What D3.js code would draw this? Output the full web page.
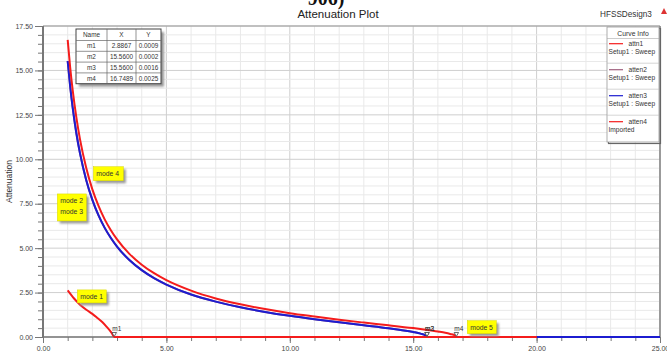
<!DOCTYPE html>
<html>
<head>
<meta charset="utf-8">
<script src="https://cdn.jsdelivr.net/npm/d3@7"></script>
<style>
  body { margin: 0; background: #fff; }
  svg { display: block; font-family: "Liberation Sans", Arial, sans-serif; }
</style>
</head>
<body>
<svg id="chart" width="667" height="352"></svg>
<script>
// Attenuation of the evanescent modes versus frequency (GHz)
const mode1Freq  = [1.0, 1.25, 1.5, 1.77, 2.0, 2.18, 2.4, 2.58, 2.78, 2.8867, 20];
const mode1Atten = [2.62, 2.18, 1.82, 1.52, 1.30, 1.10, 0.84, 0.57, 0.23, 0, 0];

const mode23Freq  = [1, 1.1, 1.2, 1.35, 1.5, 1.75, 2, 2.25, 2.5, 2.75, 3, 3.5, 4, 4.5, 5, 6, 7, 8, 9, 10, 11, 12, 13, 14, 14.5, 15, 15.3, 15.5, 15.56, 25];
const mode23Atten = [15.53, 14.11, 12.93, 11.48, 10.33, 8.84, 7.72, 6.84, 6.14, 5.57, 5.09, 4.33, 3.76, 3.31, 2.95, 2.39, 1.99, 1.67, 1.41, 1.19, 1.00, 0.83, 0.66, 0.49, 0.39, 0.28, 0.19, 0.09, 0, 0];

const mode4Freq  = [1, 1.1, 1.2, 1.35, 1.5, 1.75, 2, 2.25, 2.5, 2.75, 3, 3.5, 4, 4.5, 5, 6, 7, 8, 9, 10, 11, 12, 13, 14, 15, 15.5, 16, 16.3, 16.5, 16.7, 16.7489, 20];
const mode4Atten = [16.72, 15.19, 13.92, 12.37, 11.12, 9.52, 8.31, 7.38, 6.62, 6.01, 5.49, 4.68, 4.07, 3.59, 3.20, 2.61, 2.17, 1.84, 1.57, 1.34, 1.15, 0.97, 0.81, 0.66, 0.50, 0.41, 0.31, 0.24, 0.17, 0.08, 0, 0];

// curve names as listed in the Curve Info box
const curveNames   = ["attn1", "atten2", "atten3", "atten4"];
const curveSources = ["Setup1 : Sweep", "Setup1 : Sweep", "Setup1 : Sweep", "Imported"];

// marker table
const markerNames = ["m1", "m2", "m3", "m4"];
const markerX     = [2.8867, 15.5600, 15.5600, 16.7489];
const markerY     = [0.0009, 0.0002, 0.0016, 0.0025];

// axis ticks
const xMajorTicks = [0, 5, 10, 15, 20, 25];
const yMajorTicks = [0, 2.5, 5, 7.5, 10, 12.5, 15, 17.5];

const svg = d3.select("#chart");
const plotLeft = 43, plotRight = 660, plotTop = 26, plotBottom = 337;

const x = d3.scaleLinear().domain([0, 25]).range([plotLeft, plotRight]);
const y = d3.scaleLinear().domain([0, 17.5]).range([plotBottom, plotTop]);

const xMinor = d3.range(0, 25.001, 1);
const yMinor = d3.range(0, 17.501, 0.5);

// heading text (upper part runs off the page)
svg.append("text").attr("x", 326).attr("y", 4.5)
  .attr("text-anchor", "middle")
  .style("font-family", "'Liberation Serif','Times New Roman',serif")
  .style("font-size", "20px").style("font-weight", "bold").attr("fill", "#111")
  .text("906)");
svg.append("text").attr("x", 338).attr("y", 17.5)
  .attr("text-anchor", "middle").style("font-size", "11.5px").attr("fill", "#222")
  .text("Attenuation Plot");
svg.append("text").attr("x", 600).attr("y", 17)
  .style("font-size", "8.2px").attr("fill", "#333").text("HFSSDesign3");
svg.append("path")
  .attr("d", "M661,14 L664,8 L667,14 Z").attr("fill", "#d33");

// grid
const grid = svg.append("g");
grid.selectAll("line.vx").data(xMinor).join("line")
  .attr("x1", d => x(d)).attr("x2", d => x(d))
  .attr("y1", plotTop).attr("y2", plotBottom)
  .attr("stroke", d => (d % 5 === 0 ? "#cfcfcf" : "#e9e9e9")).attr("stroke-width", 1);
grid.selectAll("line.hy").data(yMinor).join("line")
  .attr("y1", d => y(d)).attr("y2", d => y(d))
  .attr("x1", plotLeft).attr("x2", plotRight)
  .attr("stroke", d => (d % 2.5 === 0 ? "#cfcfcf" : "#e9e9e9")).attr("stroke-width", 1);

// frame
svg.append("line").attr("x1", plotLeft).attr("x2", plotRight).attr("y1", plotTop).attr("y2", plotTop)
  .attr("stroke", "#999").attr("stroke-width", 1.2);
svg.append("line").attr("x1", plotRight).attr("x2", plotRight).attr("y1", plotTop).attr("y2", plotBottom)
  .attr("stroke", "#888").attr("stroke-width", 1.6);

// axes
const fmt = d3.format(".2f");
const yAxisMinor = d3.axisLeft(y).tickValues(yMinor).tickSize(5).tickFormat("");
const yAxisMajor = d3.axisLeft(y).tickValues(yMajorTicks).tickSize(8).tickFormat(fmt).tickPadding(2);
const xAxisMinor = d3.axisBottom(x).tickValues(xMinor).tickSize(4).tickFormat("");
const xAxisMajor = d3.axisBottom(x).tickValues(xMajorTicks).tickSize(6).tickFormat(fmt).tickPadding(3);

function styleAxis(g) {
  g.select(".domain").remove();
  g.selectAll(".tick line").attr("stroke", "#777");
  g.selectAll(".tick text").attr("fill", "#444")
    .style("font-size", "7px").style("font-family", "'Liberation Sans',Arial,sans-serif");
}
svg.append("g").attr("transform", `translate(${plotLeft},0)`).call(yAxisMinor).call(styleAxis);
svg.append("g").attr("transform", `translate(${plotLeft},0)`).call(yAxisMajor).call(styleAxis);
svg.append("g").attr("transform", `translate(0,${plotBottom})`).call(xAxisMinor).call(styleAxis);
svg.append("g").attr("transform", `translate(0,${plotBottom})`).call(xAxisMajor).call(styleAxis);

svg.append("line").attr("x1", plotLeft).attr("x2", plotLeft).attr("y1", plotTop).attr("y2", plotBottom + 1)
  .attr("stroke", "#777").attr("stroke-width", 2);
svg.append("line").attr("x1", plotLeft).attr("x2", plotRight).attr("y1", plotBottom).attr("y2", plotBottom)
  .attr("stroke", "#777").attr("stroke-width", 1.5);

svg.append("text")
  .attr("transform", `translate(12,${(plotTop + plotBottom) / 2}) rotate(-90)`)
  .attr("text-anchor", "middle").style("font-size", "8.5px").attr("fill", "#333")
  .text("Attenuation");

// curves
const series = [
  { name: curveNames[1], freq: mode23Freq, atten: mode23Atten, color: "#a0607e" },
  { name: curveNames[2], freq: mode23Freq, atten: mode23Atten, color: "#1c1cd0" },
  { name: curveNames[3], freq: mode4Freq,  atten: mode4Atten,  color: "#f41c1c" },
  { name: curveNames[0], freq: mode1Freq,  atten: mode1Atten,  color: "#f41c1c" }
];
const line = d3.line().x(d => x(d[0])).y(d => y(d[1])).curve(d3.curveMonotoneX);
const curves = svg.append("g");
series.forEach(s => {
  curves.append("path")
    .datum(d3.zip(s.freq, s.atten))
    .attr("d", line)
    .attr("fill", "none").attr("stroke", s.color).attr("stroke-width", 2)
    .attr("stroke-linejoin", "round");
});

// markers on the curves
const mk = svg.append("g");
markerNames.forEach((n, i) => {
  const px = x(markerX[i]), py = y(markerY[i]);
  mk.append("path")
    .attr("d", `M${px - 2.2},${py - 4.5} L${px + 2.2},${py - 4.5} L${px},${py - 0.5} Z`)
    .attr("fill", "#fff").attr("stroke", "#444").attr("stroke-width", 0.8);
  mk.append("text").attr("x", px - 2).attr("y", py - 6)
    .style("font-size", "6.5px").attr("fill", "#333").text(n);
});

// drop shadow filter for the floating boxes
const defs = svg.append("defs");
defs.append("filter").attr("id", "soft").attr("x", "-20%").attr("y", "-20%")
  .attr("width", "140%").attr("height", "140%")
  .append("feGaussianBlur").attr("stdDeviation", 1.2);

// mode annotations
const notes = [
  { lines: ["mode 1"], fx: 1.39, fy: 2.65, w: 29, h: 13 },
  { lines: ["mode 4"], fx: 2.04, fy: 9.58, w: 30, h: 14 },
  { lines: ["mode 2", "mode 3"], fx: 0.58, fy: 8.05, w: 29, h: 27 },
  { lines: ["mode 5"], fx: 17.19, fy: 0.92, w: 29, h: 13 }
];
notes.forEach(nt => {
  const bx = x(nt.fx), by = y(nt.fy);
  const g = svg.append("g");
  g.append("rect").attr("x", bx + 2.5).attr("y", by + 2.5).attr("width", nt.w).attr("height", nt.h)
    .attr("fill", "#999").attr("filter", "url(#soft)");
  g.append("rect").attr("x", bx).attr("y", by).attr("width", nt.w).attr("height", nt.h)
    .attr("fill", "#ffff00").attr("stroke", "#d8d800").attr("stroke-width", 0.5);
  nt.lines.forEach((t, k) => {
    g.append("text").attr("x", bx + 3).attr("y", by + 9 + k * 11)
      .style("font-size", "6.8px").attr("fill", "#333").text(t);
  });
});

// marker table
const tx = 76, ty = 29, colW = [31, 29, 25], rowH = [11.5, 10.8, 10.8, 10.8, 10.8];
const tW = d3.sum(colW), tH = d3.sum(rowH);
const tbl = svg.append("g");
tbl.append("rect").attr("x", tx + 3).attr("y", ty + 3).attr("width", tW).attr("height", tH)
  .attr("fill", "#999").attr("filter", "url(#soft)");
tbl.append("rect").attr("x", tx).attr("y", ty).attr("width", tW).attr("height", tH)
  .attr("fill", "#fff").attr("stroke", "#444").attr("stroke-width", 1);
const rows = [["Name", "X", "Y"]].concat(markerNames.map((n, i) =>
  [n, markerX[i].toFixed(4), markerY[i].toFixed(4)]));
let cy = ty;
rows.forEach((r, ri) => {
  if (ri > 0) {
    tbl.append("line").attr("x1", tx).attr("x2", tx + tW).attr("y1", cy).attr("y2", cy)
      .attr("stroke", "#666").attr("stroke-width", 0.7);
  }
  let cx = tx;
  r.forEach((c, ci) => {
    tbl.append("text").attr("x", cx + colW[ci] / 2).attr("y", cy + rowH[ri] / 2 + 2.4)
      .attr("text-anchor", "middle").style("font-size", "6.4px").attr("fill", "#333").text(c);
    cx += colW[ci];
  });
  cy += rowH[ri];
});
let vx = tx;
colW.slice(0, -1).forEach(w => {
  vx += w;
  tbl.append("line").attr("x1", vx).attr("x2", vx).attr("y1", ty).attr("y2", ty + tH)
    .attr("stroke", "#666").attr("stroke-width", 0.7);
});

// Curve Info box
const lx = 607, ly = 27, lw = 52, lh = 115;
const leg = svg.append("g");
leg.append("rect").attr("x", lx + 1.5).attr("y", ly + 1.5).attr("width", lw).attr("height", lh)
  .attr("fill", "none").attr("stroke", "#666").attr("stroke-width", 1.2);
leg.append("rect").attr("x", lx).attr("y", ly).attr("width", lw).attr("height", lh)
  .attr("fill", "#fff").attr("stroke", "#999").attr("stroke-width", 0.8);
leg.append("text").attr("x", lx + lw / 2).attr("y", ly + 8.5).attr("text-anchor", "middle")
  .style("font-size", "6.8px").attr("fill", "#333").text("Curve Info");
leg.append("line").attr("x1", lx).attr("x2", lx + lw).attr("y1", ly + 11.5).attr("y2", ly + 11.5)
  .attr("stroke", "#aaa").attr("stroke-width", 0.6);
const legColors = ["#f41c1c", "#a0607e", "#1c1cd0", "#f41c1c"];
curveNames.forEach((n, i) => {
  const ey = ly + 16.7 + i * 26;
  leg.append("line").attr("x1", lx + 2).attr("x2", lx + 16).attr("y1", ey).attr("y2", ey)
    .attr("stroke", legColors[i]).attr("stroke-width", 1.2);
  leg.append("text").attr("x", lx + 21.5).attr("y", ey + 2.2)
    .style("font-size", "6.6px").attr("fill", "#333").text(n);
  leg.append("text").attr("x", lx + 1.5).attr("y", ey + 10)
    .style("font-size", "6.6px").attr("fill", "#333").text(curveSources[i]);
  if (i < 3) {
    leg.append("line").attr("x1", lx).attr("x2", lx + lw).attr("y1", ey + 19.5).attr("y2", ey + 19.5)
      .attr("stroke", "#bbb").attr("stroke-width", 0.6);
  }
});
</script>
</body>
</html>
